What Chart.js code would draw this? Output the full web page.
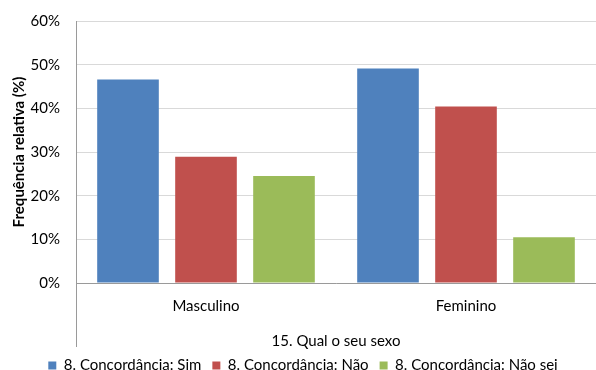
<!DOCTYPE html>
<html>
<head>
<meta charset="utf-8">
<script src="https://cdn.jsdelivr.net/npm/chart.js@4.4.1/dist/chart.umd.min.js"></script>
<style>
  html, body { margin: 0; padding: 0; background: #fff; overflow: hidden; }
  #wrap { width: 596px; height: 370px; }
</style>
</head>
<body>
<div id="wrap"><canvas id="grafico" width="596" height="370"></canvas></div>
<script>
const categorias = ['Masculino', 'Feminino'];
const serieNomes = ['8. Concordância: Sim', '8. Concordância: Não', '8. Concordância: Não sei'];
const valoresSim = [46.6, 49.1];
const valoresNao = [28.9, 40.4];
const valoresNaoSei = [24.5, 10.5];
const cores = ['#4F81BD', '#C0504D', '#9BBB59'];

const fonte = "Lato, 'Open Sans', 'DejaVu Sans', sans-serif";

// linha vertical do eixo que desce até o título do eixo x (estilo Excel)
const eixoEstendido = {
    id: 'eixoEstendido',
    afterDraw(chart) {
        const ctx = chart.ctx;
        const area = chart.chartArea;
        const x = chart.scales.x;
        ctx.save();
        ctx.strokeStyle = '#9a9a9a';
        ctx.lineWidth = 1;
        ctx.beginPath();
        ctx.moveTo(Math.round(area.left) + 0.5, area.top);
        ctx.lineTo(Math.round(area.left) + 0.5, x.bottom);
        ctx.stroke();
        ctx.restore();
    }
};

const ctx = document.getElementById('grafico').getContext('2d');
new Chart(ctx, {
    type: 'bar',
    data: {
        labels: categorias,
        datasets: [valoresSim, valoresNao, valoresNaoSei].map((dados, i) => ({
            label: serieNomes[i],
            data: dados,
            backgroundColor: cores[i],
            borderWidth: 0,
            categoryPercentage: 0.9,
            barPercentage: 0.79
        }))
    },
    options: {
        responsive: false,
        animation: false,
        layout: { padding: { top: 21, right: 0, left: 10, bottom: -13 } },
        plugins: {
            tooltip: { enabled: false },
            legend: {
                position: 'bottom',
                labels: {
                    boxWidth: 8,
                    boxHeight: 8,
                    padding: 11,
                    color: '#000',
                    font: { family: fonte, size: 15 }
                }
            }
        },
        scales: {
            x: {
                grid: { display: false, drawTicks: false },
                border: { color: '#9a9a9a' },
                ticks: {
                    padding: 14,
                    color: '#000',
                    font: { family: fonte, size: 15 }
                },
                title: {
                    display: true,
                    text: '15. Qual o seu sexo',
                    color: '#000',
                    font: { family: fonte, size: 15 },
                    padding: { top: 3, bottom: -3 }
                }
            },
            y: {
                min: 0,
                max: 60,
                afterFit: scale => { scale.width = 66; scale.paddingTop = 0; },
                grid: { color: '#d9d9d9', drawTicks: false },
                border: { display: false },
                ticks: {
                    stepSize: 10,
                    padding: 16,
                    color: '#000',
                    font: { family: fonte, size: 15 },
                    callback: v => v + '%'
                },
                title: {
                    display: true,
                    text: 'Frequência relativa (%)',
                    color: '#000',
                    font: { family: fonte, size: 15, weight: 'bold' },
                    padding: { top: 0, bottom: 4 }
                }
            }
        }
    },
    plugins: [eixoEstendido]
});
</script>
</body>
</html>
